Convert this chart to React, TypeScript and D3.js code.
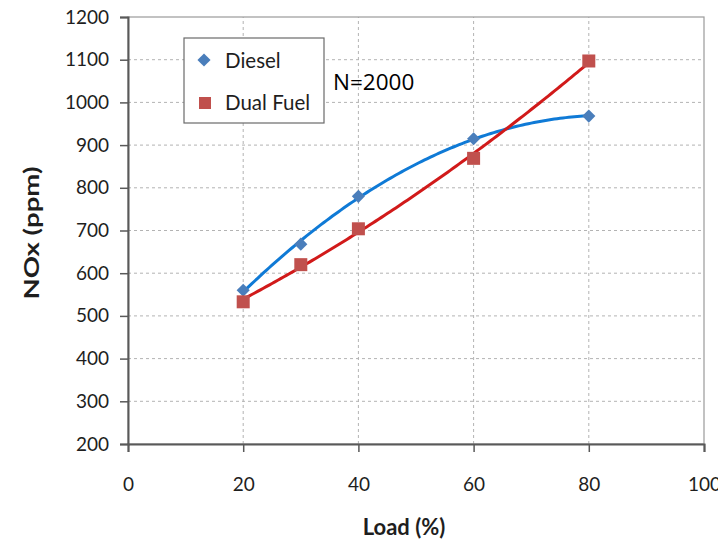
import * as d3 from "d3";
import { FC, useEffect, useRef } from "react";

// load points (%)
const loads = [20, 30, 40, 60, 80];
const dieselNox = [560, 668, 780, 915, 968];
const dualFuelNox = [533, 620, 704, 869, 1097];

const xTicks = [0, 20, 40, 60, 80, 100];
const yTicks = [200, 300, 400, 500, 600, 700, 800, 900, 1000, 1100, 1200];

const W = 718;
const H = 543;
const margin = { left: 128, right: 14, top: 17, bottom: 99 };

// quadratic least squares, the way a spreadsheet trendline does it
function polyFit2(xs: number[], ys: number[]) {
  const n = xs.length;
  let sx = 0, sx2 = 0, sx3 = 0, sx4 = 0, sy = 0, sxy = 0, sx2y = 0;
  for (let i = 0; i < n; i++) {
    const x = xs[i], y = ys[i];
    sx += x; sx2 += x * x; sx3 += x ** 3; sx4 += x ** 4;
    sy += y; sxy += x * y; sx2y += x * x * y;
  }
  const m = [
    [n, sx, sx2, sy],
    [sx, sx2, sx3, sxy],
    [sx2, sx3, sx4, sx2y]
  ];
  for (let c = 0; c < 3; c++) {
    for (let r = c + 1; r < 3; r++) {
      const f = m[r][c] / m[c][c];
      for (let k = c; k < 4; k++) m[r][k] -= f * m[c][k];
    }
  }
  const coef = [0, 0, 0];
  for (let r = 2; r >= 0; r--) {
    let s = m[r][3];
    for (let k = r + 1; k < 3; k++) s -= m[r][k] * coef[k];
    coef[r] = s / m[r][r];
  }
  return (x: number) => coef[0] + coef[1] * x + coef[2] * x * x;
}

const App: FC = () => {
  const svgRef = useRef<SVGSVGElement>(null);

  useEffect(() => {
    const svg = d3.select(svgRef.current);
    svg.selectAll("*").remove();

    const x = d3.scaleLinear().domain([0, 100]).range([margin.left, W - margin.right]);
    const y = d3.scaleLinear().domain([200, 1200]).range([H - margin.bottom, margin.top]);
    const font = "Lato, 'Open Sans', sans-serif";

    // grid
    const grid = svg.append("g").attr("stroke", "#b3b3b3").attr("stroke-width", 1).attr("stroke-dasharray", "3,3");
    yTicks.slice(1, -1).forEach((t) => {
      grid.append("line").attr("x1", x(0)).attr("x2", x(100)).attr("y1", y(t)).attr("y2", y(t));
    });
    xTicks.slice(1, -1).forEach((t) => {
      grid.append("line").attr("x1", x(t)).attr("x2", x(t)).attr("y1", y(200)).attr("y2", y(1200));
    });

    // frame
    svg.append("rect")
      .attr("x", x(0)).attr("y", y(1200))
      .attr("width", x(100) - x(0)).attr("height", y(200) - y(1200))
      .attr("fill", "none").attr("stroke", "#9a9a9a").attr("stroke-width", 1.2);

    // axes
    const xAxis = svg.append("g")
      .attr("transform", `translate(0,${y(200)})`)
      .call(d3.axisBottom(x).tickValues(xTicks).tickFormat(d3.format("d")).tickSize(8).tickPadding(26));
    const yAxis = svg.append("g")
      .attr("transform", `translate(${x(0)},0)`)
      .call(d3.axisLeft(y).tickValues(yTicks).tickFormat(d3.format("d")).tickSize(8).tickPadding(11));
    [xAxis, yAxis].forEach((a) => {
      a.select(".domain").attr("stroke", "#595959").attr("stroke-width", 2);
      a.selectAll(".tick line").attr("stroke", "#595959").attr("stroke-width", 1.5);
      a.selectAll("text").attr("font-family", font).attr("font-size", 19).attr("fill", "#1e1e1e");
    });

    // trendlines
    const series = [
      { ys: dieselNox, line: "#0f7ad6", marker: "#4a7ebb" },
      { ys: dualFuelNox, line: "#d11a1a", marker: "#c0504d" }
    ];
    const xs = d3.range(20, 80.01, 0.5);
    series.forEach((s) => {
      const f = polyFit2(loads, s.ys);
      svg.append("path")
        .datum(xs)
        .attr("fill", "none")
        .attr("stroke", s.line)
        .attr("stroke-width", 3)
        .attr("d", d3.line<number>().x((d) => x(d)).y((d) => y(f(d))));
    });

    // markers
    const diamond = d3.symbol().type(d3.symbolDiamond2).size(110);
    svg.append("g").selectAll("path").data(loads).join("path")
      .attr("transform", (d, i) => `translate(${x(d)},${y(dieselNox[i])})`)
      .attr("d", diamond()!)
      .attr("fill", series[0].marker);
    svg.append("g").selectAll("rect").data(loads).join("rect")
      .attr("x", (d) => x(d) - 6.5).attr("y", (d, i) => y(dualFuelNox[i]) - 6.5)
      .attr("width", 13).attr("height", 13)
      .attr("fill", series[1].marker);

    // legend
    const lg = svg.append("g").attr("transform", "translate(184,38)");
    lg.append("rect").attr("width", 140).attr("height", 85)
      .attr("fill", "#fff").attr("stroke", "#6a6a6a").attr("stroke-width", 1.2);
    lg.append("path").attr("transform", "translate(20,22)").attr("d", diamond()!).attr("fill", series[0].marker);
    lg.append("rect").attr("x", 15).attr("y", 59).attr("width", 12).attr("height", 12).attr("fill", series[1].marker);
    lg.append("text").attr("x", 41).attr("y", 30).text("Diesel")
      .attr("font-family", font).attr("font-size", 20.5).attr("fill", "#1e1e1e");
    lg.append("text").attr("x", 41).attr("y", 72).text("Dual Fuel")
      .attr("font-family", font).attr("font-size", 20.5).attr("fill", "#1e1e1e");

    svg.append("text").attr("x", 333).attr("y", 90).text("N=2000")
      .attr("font-family", "'Open Sans', sans-serif").attr("font-size", 22.5).attr("fill", "#000");

    // axis titles
    svg.append("text")
      .attr("transform", `translate(39,233) rotate(-90)`)
      .attr("text-anchor", "middle")
      .attr("textLength", 133).attr("lengthAdjust", "spacingAndGlyphs")
      .attr("font-family", font).attr("font-weight", "bold").attr("font-size", 21).attr("fill", "#1e1e1e")
      .text("NOx (ppm)");
    svg.append("text")
      .attr("x", 404).attr("y", 535)
      .attr("text-anchor", "middle")
      .attr("font-family", font).attr("font-weight", "bold").attr("font-size", 22).attr("fill", "#1e1e1e")
      .text("Load (%)");
  }, []);

  return (
    <svg ref={svgRef} width={W} height={H}
      style={{ position: "absolute", left: 0, top: 0, background: "#fff" }} />
  );
};

export default App;
